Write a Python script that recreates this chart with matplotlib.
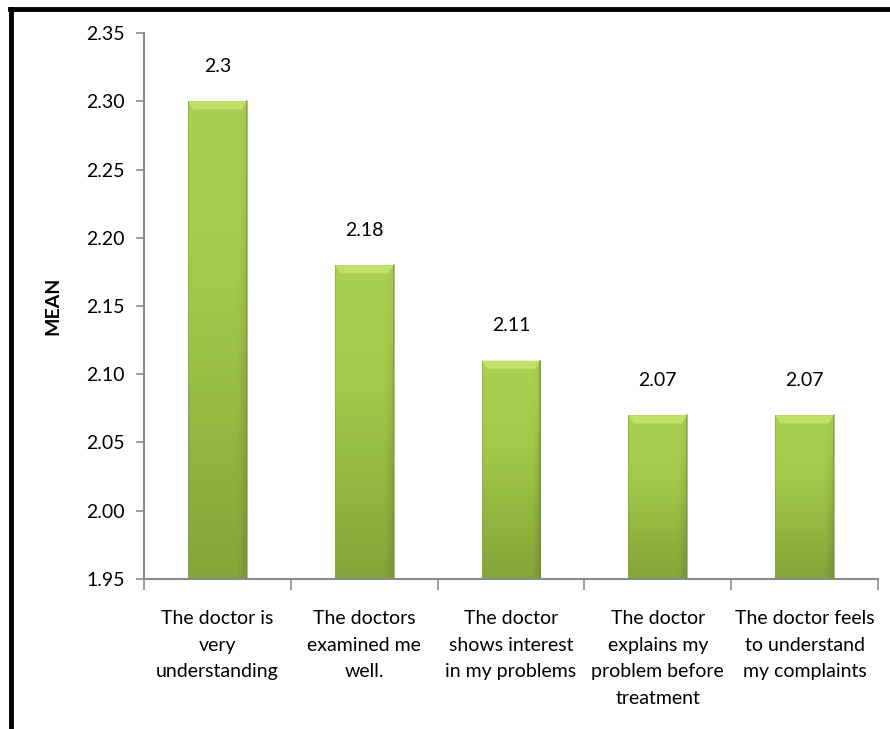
import numpy as np
import matplotlib
matplotlib.use("Agg")
import matplotlib.pyplot as plt
from matplotlib.colors import LinearSegmentedColormap
from matplotlib.patches import Polygon
from matplotlib.lines import Line2D
import matplotlib.transforms as mtransforms

plt.rcParams['font.family'] = ['Lato', 'DejaVu Sans']

categories = [
    "The doctor is\nvery\nunderstanding",
    "The doctors\nexamined me\nwell.",
    "The doctor\nshows interest\nin my problems",
    "The doctor\nexplains my\nproblem before\ntreatment",
    "The doctor feels\nto understand\nmy complaints",
]
means = [2.30, 2.18, 2.11, 2.07, 2.07]
value_labels = ["2.3", "2.18", "2.11", "2.07", "2.07"]
y_ticks = [1.95, 2.00, 2.05, 2.10, 2.15, 2.20, 2.25, 2.30, 2.35]

fig = plt.figure(figsize=(8.9, 7.29), dpi=100)
ax = fig.add_axes([0.1618, 0.2058, 0.9865 - 0.1618, 0.9547 - 0.2058])

ymin, ymax = 1.95, 2.35
x = np.arange(len(categories))
bar_w = 0.40
bars = ax.bar(x, [m - ymin for m in means], bottom=ymin, width=bar_w,
              facecolor='none', edgecolor='none', zorder=2)

# green gradient fill: lighter at the top, darker olive at the base
cmap = LinearSegmentedColormap.from_list(
    "grn", ["#7b9a36", "#8fb23d", "#a2c94a", "#a9d051"])
for b, m in zip(bars, means):
    x0 = b.get_x()
    w = b.get_width()
    vert = np.linspace(0, 1, 200)[:, None]
    horiz = np.linspace(0, 1, 40)[None, :]
    # slight darkening toward the right edge
    shade = vert * 0.85 + 0.15 - 0.25 * np.clip((horiz - 0.85) / 0.15, 0, 1)
    im = ax.imshow(shade, cmap=cmap, vmin=0, vmax=1, origin='lower',
                   extent=[x0, x0 + w, ymin, m], aspect='auto', zorder=2,
                   interpolation='bilinear')
    im.set_clip_path(b)
    # bevel at the top of each bar
    bev = 0.006
    inset = w * 0.09
    top = Polygon([[x0, m], [x0 + w, m], [x0 + w - inset, m - bev],
                   [x0 + inset, m - bev]], closed=True,
                  facecolor="#c4e36a", edgecolor='none', zorder=3, alpha=0.9)
    ax.add_patch(top)
    # thin darker outline on the sides
    ax.plot([x0 + w, x0 + w], [ymin, m], color="#6b7f3a", lw=1.2,
            alpha=0.6, zorder=3)
    ax.plot([x0, x0], [ymin, m], color="#8aa546", lw=0.8, alpha=0.6, zorder=3)

ax.set_xlim(-0.5, len(categories) - 0.5)
ax.set_ylim(ymin, ymax)
ax.set_yticks(y_ticks)
ax.set_yticklabels([f"{t:.2f}" for t in y_ticks], fontsize=14)

# category boundaries carry the tick marks
ax.set_xticks(np.arange(len(categories) + 1) - 0.5)
ax.set_xticklabels([])
ax.tick_params(axis='x', length=8, width=1.2, color='#8c8c8c', direction='out')
ax.tick_params(axis='y', length=6, width=1.2, color='#8c8c8c', direction='out',
               pad=8)

for s in ['top', 'right']:
    ax.spines[s].set_visible(False)
for s in ['left', 'bottom']:
    ax.spines[s].set_color('#8c8c8c')
    ax.spines[s].set_linewidth(1.5)

# category labels below the axis
trans = mtransforms.blended_transform_factory(ax.transData, ax.transAxes)
for xi, lab in zip(x, categories):
    ax.text(xi, -0.057, lab, transform=trans, ha='center', va='top',
            fontsize=14, linespacing=1.68)

# value labels above the bars
for xi, m, lab in zip(x, means, value_labels):
    ax.annotate(lab, (xi, m), xytext=(0, 25), textcoords='offset points',
                ha='center', va='center', fontsize=14)

# y-axis title
ylab_trans = mtransforms.blended_transform_factory(fig.transFigure,
                                                   ax.transAxes)
fig.text(53 / 890, 0.5, "MEAN", transform=ylab_trans, rotation=90,
         ha='center', va='center', fontsize=14, fontweight='bold')

# dark frame along the left and top of the figure
fig.add_artist(Line2D([11 / 890, 11 / 890], [0, 1 - 9 / 729],
                      transform=fig.transFigure, color='black', lw=3.5))
fig.add_artist(Line2D([9.5 / 890, 1], [1 - 9 / 729, 1 - 9 / 729],
                      transform=fig.transFigure, color='black', lw=3.5))

fig.savefig("out.png", dpi=100)
